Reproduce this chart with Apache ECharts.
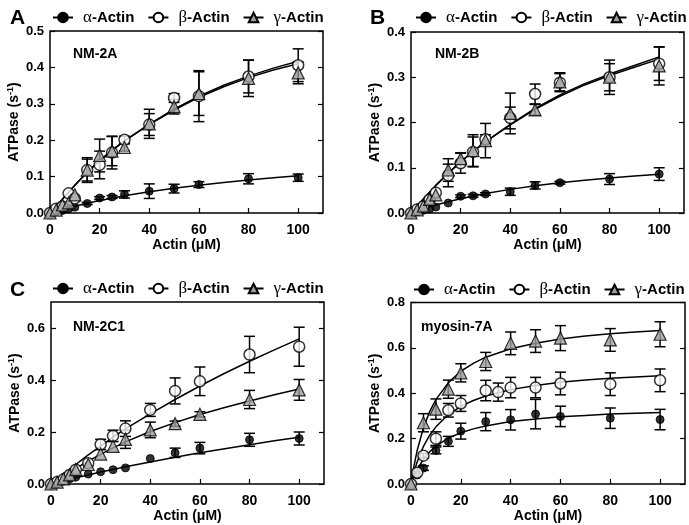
<!DOCTYPE html>
<html><head><meta charset="utf-8">
<script src="https://cdn.jsdelivr.net/npm/echarts@6/dist/echarts.min.js"></script>
<style>html,body{margin:0;padding:0;background:#fff}#c{width:689px;height:525px}</style>
</head><body><div id="c"></div>
<script>
// ---------------- DATA ----------------
const seriesNames = ['α-Actin', 'β-Actin', 'γ-Actin'];
const xTicks = [0, 20, 40, 60, 80, 100];

// Panel A : NM-2A
const xA = [0, 2.5, 5, 7.5, 10, 15, 20, 25, 30, 40, 50, 60, 80, 100];
const alphaA = [0, 0.004, 0.007, 0.011, 0.016, 0.026, 0.041, 0.044, 0.051, 0.060, 0.067, 0.078, 0.094, 0.097];
const alphaAErr = [0, 0, 0, 0, 0, 0.003, 0.004, 0.004, 0.010, 0.020, 0.012, 0.008, 0.014, 0.010];
const betaA = [0, 0.012, 0.018, 0.054, 0.040, 0.118, 0.132, 0.166, 0.201, 0.243, 0.316, 0.321, 0.375, 0.406];
const betaAErr = [0, 0, 0, 0, 0, 0.030, 0.038, 0.045, 0.010, 0.030, 0.012, 0.070, 0.045, 0.045];
const gammaA = [0, 0.008, 0.022, 0.028, 0.050, 0.118, 0.158, 0.170, 0.180, 0.245, 0.292, 0.328, 0.370, 0.385];
const gammaAErr = [0, 0, 0, 0, 0, 0.034, 0.045, 0.040, 0.010, 0.040, 0.020, 0.060, 0.050, 0.030];
const fitXA = [0, 5, 10, 15, 20, 25, 30, 40, 50, 60, 70, 80, 90, 100];
const alphaFitA = [0, 0.0097, 0.0185, 0.0266, 0.034, 0.0408, 0.0471, 0.0583, 0.068, 0.0765, 0.084, 0.0907, 0.0966, 0.102];
const betaFitA = [0, 0.038, 0.076, 0.112, 0.144, 0.172, 0.198, 0.243, 0.283, 0.318, 0.347, 0.372, 0.393, 0.410];
const gammaFitA = [0, 0.038, 0.076, 0.112, 0.144, 0.172, 0.198, 0.244, 0.285, 0.321, 0.351, 0.376, 0.398, 0.417];

// Panel B : NM-2B
const xB = [0, 2.5, 5, 7.5, 10, 15, 20, 25, 30, 40, 50, 60, 80, 100];
const alphaB = [0, 0.003, 0.006, 0.009, 0.013, 0.022, 0.037, 0.038, 0.042, 0.047, 0.061, 0.067, 0.075, 0.086];
const alphaBErr = [0, 0, 0, 0, 0, 0, 0.003, 0.003, 0.003, 0.008, 0.008, 0.003, 0.012, 0.014];
const betaB = [0, 0.008, 0.015, 0.030, 0.045, 0.083, 0.110, 0.135, 0.163, 0.210, 0.263, 0.288, 0.300, 0.330];
const betaBErr = [0, 0, 0, 0, 0, 0.025, 0.022, 0.033, 0.010, 0.024, 0.022, 0.020, 0.030, 0.037];
const gammaB = [0, 0.007, 0.015, 0.030, 0.040, 0.095, 0.120, 0.138, 0.160, 0.220, 0.228, 0.290, 0.300, 0.325];
const gammaBErr = [0, 0, 0, 0, 0, 0.025, 0.013, 0.035, 0.038, 0.045, 0.012, 0.020, 0.038, 0.042];
const fitXB = [0, 5, 10, 15, 20, 25, 30, 40, 50, 60, 70, 80, 90, 100];
const alphaFitB = [0, 0.0094, 0.0177, 0.025, 0.0316, 0.0375, 0.0429, 0.0522, 0.060, 0.0667, 0.0724, 0.0774, 0.0818, 0.0857];
const betaFitB = [0, 0.031, 0.061, 0.088, 0.113, 0.136, 0.157, 0.195, 0.229, 0.258, 0.283, 0.304, 0.322, 0.340];
const gammaFitB = [0, 0.031, 0.061, 0.088, 0.113, 0.136, 0.157, 0.196, 0.231, 0.261, 0.286, 0.307, 0.326, 0.345];

// Panel C : NM-2C1
const xC = [0, 2.5, 5, 7.5, 10, 15, 20, 25, 30, 40, 50, 60, 80, 100];
const alphaC = [0, 0.005, 0.012, 0.020, 0.027, 0.038, 0.047, 0.055, 0.062, 0.098, 0.120, 0.138, 0.170, 0.175];
const alphaCErr = [0, 0, 0, 0, 0, 0, 0, 0, 0, 0, 0.018, 0.022, 0.025, 0.025];
const betaC = [0, 0.008, 0.018, 0.035, 0.055, 0.080, 0.152, 0.185, 0.213, 0.285, 0.358, 0.395, 0.498, 0.528];
const betaCErr = [0, 0, 0, 0, 0, 0, 0.020, 0.022, 0.030, 0.025, 0.050, 0.055, 0.070, 0.075];
const gammaC = [0, 0.007, 0.020, 0.035, 0.055, 0.075, 0.115, 0.145, 0.172, 0.208, 0.232, 0.268, 0.325, 0.362];
const gammaCErr = [0, 0, 0, 0, 0, 0, 0, 0, 0.035, 0.030, 0.010, 0.010, 0.035, 0.040];
const fitXC = [0, 5, 10, 15, 20, 25, 30, 40, 50, 60, 70, 80, 90, 100];
const alphaFitC = [0, 0.012, 0.024, 0.035, 0.046, 0.056, 0.066, 0.085, 0.103, 0.120, 0.136, 0.151, 0.166, 0.180];
const betaFitC = [0, 0.038, 0.075, 0.112, 0.146, 0.180, 0.212, 0.270, 0.325, 0.377, 0.426, 0.472, 0.516, 0.558];
const gammaFitC = [0, 0.031, 0.060, 0.088, 0.114, 0.139, 0.162, 0.202, 0.236, 0.267, 0.294, 0.319, 0.343, 0.365];

// Panel D : myosin-7A
const xDalpha = [0, 2.5, 5, 10, 15, 20, 30, 40, 50, 60, 80, 100];
const alphaD = [0, 0.040, 0.070, 0.148, 0.188, 0.233, 0.275, 0.283, 0.308, 0.298, 0.290, 0.284];
const alphaDErr = [0, 0, 0.010, 0.015, 0.022, 0.035, 0.040, 0.045, 0.065, 0.045, 0.045, 0.045];
const xDbeta = [0, 2.5, 5, 10, 15, 20, 30, 35, 40, 50, 60, 80, 100];
const betaD = [0, 0.050, 0.125, 0.200, 0.325, 0.355, 0.412, 0.405, 0.425, 0.425, 0.443, 0.440, 0.457];
const betaDErr = [0, 0, 0.010, 0.030, 0.030, 0.035, 0.045, 0.040, 0.045, 0.045, 0.050, 0.050, 0.050];
const xDgamma = [0, 5, 10, 15, 20, 30, 40, 50, 60, 80, 100];
const gammaD = [0, 0.270, 0.330, 0.418, 0.490, 0.540, 0.620, 0.630, 0.643, 0.635, 0.660];
const gammaDErr = [0, 0.040, 0.045, 0.040, 0.040, 0.040, 0.050, 0.050, 0.055, 0.050, 0.055];
const fitXD = [0, 1, 2.5, 5, 7.5, 10, 15, 20, 25, 30, 40, 50, 60, 70, 80, 90, 100];
const alphaFitD = [0, 0.029, 0.065, 0.109, 0.142, 0.167, 0.202, 0.226, 0.243, 0.256, 0.275, 0.287, 0.296, 0.302, 0.308, 0.312, 0.315];
const betaFitD = [0, 0.044, 0.098, 0.166, 0.215, 0.252, 0.306, 0.342, 0.368, 0.388, 0.416, 0.434, 0.448, 0.458, 0.466, 0.472, 0.477];
const gammaFitD = [0, 0.068, 0.149, 0.248, 0.319, 0.372, 0.447, 0.497, 0.532, 0.559, 0.596, 0.620, 0.639, 0.652, 0.662, 0.670, 0.677];

// ---------------- LAYOUT / STYLE ----------------
const panels = [
  { letter: 'A', title: 'NM-2A', grid: { left: 50, top: 31, width: 273, height: 182 }, ymax: 0.5, yint: 0.1,
    letterPos: [5, 3], titlePos: [73, 47], legendPos: [52, 9],
    sets: [[xA, alphaA, alphaAErr], [xA, betaA, betaAErr], [xA, gammaA, gammaAErr]],
    fits: [[fitXA, alphaFitA], [fitXA, betaFitA], [fitXA, gammaFitA]] },
  { letter: 'B', title: 'NM-2B', grid: { left: 411, top: 32, width: 273, height: 181 }, ymax: 0.4, yint: 0.1,
    letterPos: [365, 3], titlePos: [435, 47], legendPos: [415, 9],
    sets: [[xB, alphaB, alphaBErr], [xB, betaB, betaBErr], [xB, gammaB, gammaBErr]],
    fits: [[fitXB, alphaFitB], [fitXB, betaFitB], [fitXB, gammaFitB]] },
  { letter: 'C', title: 'NM-2C1', grid: { left: 51, top: 302, width: 273, height: 182 }, ymax: 0.7, yint: 0.2,
    letterPos: [5, 275], titlePos: [73, 320], legendPos: [52, 280],
    sets: [[xC, alphaC, alphaCErr], [xC, betaC, betaCErr], [xC, gammaC, gammaCErr]],
    fits: [[fitXC, alphaFitC], [fitXC, betaFitC], [fitXC, gammaFitC]] },
  { letter: '', title: 'myosin-7A', grid: { left: 411, top: 302.5, width: 274, height: 181.5 }, ymax: 0.8, yint: 0.2,
    letterPos: [365, 275], titlePos: [421, 320], legendPos: [413, 281],
    sets: [[xDalpha, alphaD, alphaDErr], [xDbeta, betaD, betaDErr], [xDgamma, gammaD, gammaDErr]],
    fits: [[fitXD, alphaFitD], [fitXD, betaFitD], [fitXD, gammaFitD]] }
];

const FONT = 'Liberation Sans, Arial, sans-serif';
const markerStyles = [
  { symbol: 'circle', size: 8, itemStyle: { color: '#000', borderColor: '#000', borderWidth: 1 } },
  { symbol: 'circle', size: 11, itemStyle: { color: '#fff', borderColor: '#000', borderWidth: 1.5 } },
  { symbol: 'triangle', size: 12, itemStyle: { color: '#9e9e9e', borderColor: '#000', borderWidth: 1.2 } }
];

const grids = [], xAxes = [], yAxes = [], series = [], legends = [], titles = [];

panels.forEach((p, i) => {
  grids.push(Object.assign({ show: true, borderColor: '#000', borderWidth: 1.5, backgroundColor: 'transparent' }, p.grid));
  xAxes.push({
    type: 'value', gridIndex: i, min: 0, max: 110, interval: 20,
    name: 'Actin (μM)', nameLocation: 'middle', nameGap: 19,
    nameTextStyle: { fontFamily: FONT, fontWeight: 'bold', fontSize: 14, color: '#000' },
    axisLine: { show: false }, splitLine: { show: false },
    axisTick: { inside: true, length: 5, lineStyle: { color: '#000', width: 1.2 } },
    axisLabel: { showMaxLabel: false, margin: 10, fontFamily: FONT, fontWeight: 'bold', fontSize: 14, color: '#000' }
  });
  const yBase = {
    type: 'value', gridIndex: i, min: 0, max: p.ymax, interval: p.yint,
    axisLine: { show: false }, splitLine: { show: false },
    axisTick: { inside: true, length: 5, lineStyle: { color: '#000', width: 1.2 } }
  };
  yAxes.push(Object.assign({}, yBase, {
    position: 'left',
    name: 'ATPase (s{sup|-1})', nameLocation: 'middle', nameGap: 28, nameRotate: 90,
    nameTextStyle: { fontFamily: FONT, fontWeight: 'bold', fontSize: 14, color: '#000',
      rich: { sup: { fontFamily: FONT, fontWeight: 'bold', fontSize: 9, verticalAlign: 'top', padding: [0, 0, 7, 0] } } },
    axisLabel: { margin: 6, fontFamily: FONT, fontWeight: 'bold', fontSize: 13, color: '#000',
      showMaxLabel: p.ymax === 0.7 ? false : true,
      formatter: v => v.toFixed(1) }
  }));
  yAxes.push(Object.assign({}, yBase, { position: 'right', axisLabel: { show: false } }));

  // error bars
  p.sets.forEach((s, k) => {
    const [xs, ys, es] = s;
    const d = [];
    xs.forEach((x, j) => { if (es[j] > 0) d.push([x, ys[j] - es[j], ys[j] + es[j]]); });
    series.push({
      type: 'custom', name: 'err' + i + k, xAxisIndex: i, yAxisIndex: 2 * i, silent: true, clip: false, z: 2,
      data: d,
      renderItem: (params, api) => {
        const lo = api.coord([api.value(0), api.value(1)]);
        const hi = api.coord([api.value(0), api.value(2)]);
        const w = 5.5, st = { stroke: '#000', lineWidth: 1.5 };
        return { type: 'group', children: [
          { type: 'line', shape: { x1: lo[0], y1: lo[1], x2: hi[0], y2: hi[1] }, style: st },
          { type: 'line', shape: { x1: lo[0] - w, y1: lo[1], x2: lo[0] + w, y2: lo[1] }, style: st },
          { type: 'line', shape: { x1: hi[0] - w, y1: hi[1], x2: hi[0] + w, y2: hi[1] }, style: st }
        ] };
      }
    });
  });
  // fit lines (carry legend)
  p.fits.forEach((f, k) => {
    const ms = markerStyles[k];
    series.push({
      type: 'line', name: seriesNames[k], xAxisIndex: i, yAxisIndex: 2 * i, z: 3,
      data: f[0].map((x, j) => [x, f[1][j]]),
      smooth: false, showSymbol: false, symbol: ms.symbol, symbolSize: ms.size,
      itemStyle: ms.itemStyle, lineStyle: { color: '#000', width: 1.5, join: 'round' }, silent: true
    });
  });
  // data markers
  p.sets.forEach((s, k) => {
    const [xs, ys] = s;
    const ms = markerStyles[k];
    series.push({
      type: 'scatter', name: 'pts' + i + k, xAxisIndex: i, yAxisIndex: 2 * i, z: 4, clip: false,
      data: xs.map((x, j) => [x, ys[j]]),
      symbol: ms.symbol, symbolSize: ms.size, itemStyle: ms.itemStyle, silent: true
    });
  });

  legends.push({
    left: p.legendPos[0], top: p.legendPos[1], width: 320, orient: 'horizontal', padding: 0,
    itemWidth: 20, itemHeight: 12, itemGap: 13, selectedMode: false,
    data: seriesNames.map(n => ({ name: n })),
    formatter: n => '{s|}{g|' + n.charAt(0) + '}{b|' + n.slice(1) + '}',
    textStyle: { color: '#000', rich: {
      s: { width: 5 },
      g: { fontFamily: 'Liberation Serif, serif', fontSize: 17, color: '#000' },
      b: { fontFamily: FONT, fontWeight: 'bold', fontSize: 15, color: '#000' } } }
  });
  if (p.letter) titles.push({ text: p.letter, left: p.letterPos[0], top: p.letterPos[1],
    textStyle: { fontFamily: FONT, fontWeight: 'bold', fontSize: 21, color: '#000' } });
  titles.push({ text: p.title, left: p.titlePos[0], top: p.titlePos[1], padding: 0,
    textStyle: { fontFamily: FONT, fontWeight: 'bold', fontSize: 14, color: '#000' } });
});

const chart = echarts.init(document.getElementById('c'), null, { renderer: 'canvas' });
chart.setOption({
  animation: false, backgroundColor: '#fff',
  title: titles, grid: grids, xAxis: xAxes, yAxis: yAxes, legend: legends, series: series
});
</script></body></html>
